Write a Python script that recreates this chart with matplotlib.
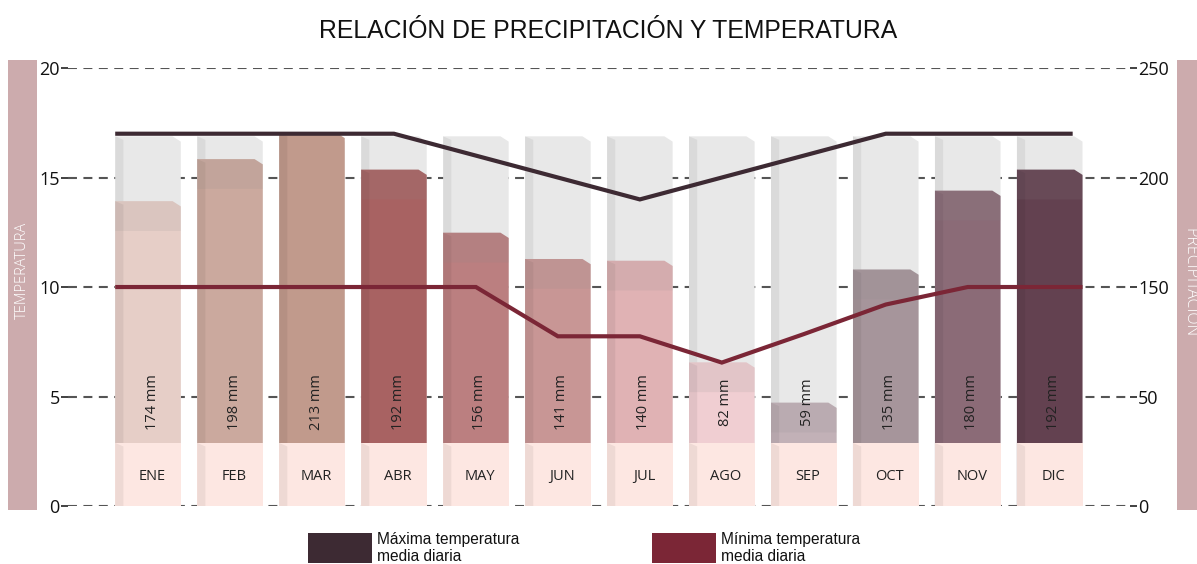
import numpy as np
import matplotlib
matplotlib.use("Agg")
import matplotlib.pyplot as plt
from matplotlib.patches import Polygon, Rectangle

# data
months = ["ENE", "FEB", "MAR", "ABR", "MAY", "JUN", "JUL", "AGO", "SEP", "OCT", "NOV", "DIC"]
precip_mm = [174, 198, 213, 192, 156, 141, 140, 82, 59, 135, 180, 192]
temp_max = [17, 17, 17, 17, 16, 15, 14, 15, 16, 17, 17, 17]
temp_min = [10, 10, 10, 10, 10, 7.75, 7.75, 6.55, 7.85, 9.2, 10, 10]
bar_colors = ["#e6cec7", "#cba99e", "#c19a8c", "#a86262", "#bb7f80", "#c89695",
              "#e0b2b4", "#f0ced2", "#c2b1b7", "#a6959b", "#8b6b77", "#634150"]
temp_ticks = [0, 5, 10, 15, 20]
precip_tick_labels = ["0", "50", "150", "200", "250"]

# style constants
COL_TOP = 211      # mm, height of grey background column
LABEL_TOP = 36     # mm, height of month label box
BAND = 17          # mm, darker band under top of bar
W = 0.8
SIDE = 0.1

fig = plt.figure(figsize=(11.97, 5.64), dpi=100)
ax = fig.add_axes([0.0568, 0.1028, 0.887, 0.7766])
ax2 = ax.twinx()

x = np.arange(len(months))


def box(a, x0, w, y0, y1, face, z, chamfer=True):
    if chamfer:
        pts = [(x0, y0), (x0, y1), (x0 + w - 0.1, y1), (x0 + w, y1 - 3), (x0 + w, y0)]
    else:
        pts = [(x0, y0), (x0, y1), (x0 + w, y1), (x0 + w, y0)]
    a.add_patch(Polygon(pts, closed=True, fc=face, ec="none", zorder=z))
    # darker left side face
    a.add_patch(Polygon([(x0, y0), (x0, y1), (x0 + SIDE, y1 - 2), (x0 + SIDE, y0)],
                        closed=True, fc="black", ec="none", alpha=0.06, zorder=z + 0.1))


for i, (v, c) in enumerate(zip(precip_mm, bar_colors)):
    x0 = i - W / 2
    box(ax, x0, W, 0, COL_TOP, "#e8e8e8", 1)
    box(ax, x0, W, 0, v, c, 2)
    if v < COL_TOP:
        ax.add_patch(Polygon([(x0, v - BAND), (x0, v), (x0 + W - 0.1, v), (x0 + W, v - 3),
                              (x0 + W, v - BAND)], closed=True, fc="#8a8a8a",
                             ec="none", alpha=0.13, zorder=3))
    box(ax, x0, W, 0, LABEL_TOP, "#fde7e2", 4, chamfer=False)
    ax.text(i + 0.05, 17, months[i], ha="center", va="center", fontsize=10.5,
            color="#222222", family="Open Sans", zorder=6)
    ax.text(i + 0.05, 59.4, f"{v} mm", ha="center", va="center", rotation=90,
            fontsize=10.5, color="#222222", family="Open Sans", zorder=6)

ax.set_xlim(-0.976, 11.976)
ax.set_ylim(0, 250)
ax.set_yticks(np.array(temp_ticks) * 12.5)
ax.set_yticklabels(precip_tick_labels)
ax.yaxis.tick_right()
ax.set_xticks([])
ax.grid(axis="y", color="#555555", lw=1.5, ls=(0, (4.3, 3.1)))
ax.set_axisbelow(True)

# temperature lines, running from the first bar's left edge to the last bar's right edge
ax2.plot(np.concatenate([[-0.4], x, [11.28]]), [temp_max[0]] + temp_max + [temp_max[-1]],
         color="#3d2a33", lw=3, solid_capstyle="butt", solid_joinstyle="miter")
ax2.plot(np.concatenate([[-0.4], x, [11.4]]), [temp_min[0]] + temp_min + [temp_min[-1]],
         color="#7b2636", lw=3, solid_capstyle="butt", solid_joinstyle="miter")
ax2.set_ylim(0, 20)
ax2.set_yticks(temp_ticks)
ax2.yaxis.tick_left()

for a in (ax, ax2):
    for s in a.spines.values():
        s.set_visible(False)
    a.tick_params(axis="y", length=5, width=1.3, color="#333333", pad=1,
                  labelsize=13, labelcolor="#111111")
    for t in a.get_yticklabels():
        t.set_family("Open Sans")

fig.text(0.508, 0.945, "RELACIÓN DE PRECIPITACIÓN Y TEMPERATURA", ha="center", va="center",
         fontsize=17.8, family="Liberation Sans", color="#111111")

# side strips
fig.patches.append(Rectangle((8 / 1197, 54 / 564), 29 / 1197, 450 / 564,
                             transform=fig.transFigure, fc="#ccabad", ec="none"))
fig.patches.append(Rectangle((1177 / 1197, 54 / 564), 25 / 1197, 450 / 564,
                             transform=fig.transFigure, fc="#ccabad", ec="none"))
fig.text(22 / 1197, 1 - 270 / 564, "TEMPERATURA", rotation=90, ha="center", va="center",
         color="white", fontsize=10.5, family="Open Sans", fontweight="light")
fig.text(1189 / 1197, 1 - 283 / 564, "PRECIPITACIÓN", rotation=270, ha="center", va="center",
         color="white", fontsize=11.5, family="Open Sans", fontweight="light")

# legend
for x_px, col, lab in [(308, "#3d2a33", "Máxima temperatura\nmedia diaria"),
                       (652, "#7b2636", "Mínima temperatura\nmedia diaria")]:
    fig.patches.append(Rectangle((x_px / 1197, 1 / 564), 64 / 1197, 30 / 564,
                                 transform=fig.transFigure, fc=col, ec="none"))
    fig.text((x_px + 69) / 1197, 1 - 548 / 564, lab, ha="left", va="center",
             fontsize=11.2, family="Liberation Sans", color="#111111", linespacing=1.2)

fig.savefig("out.png", dpi=100)
